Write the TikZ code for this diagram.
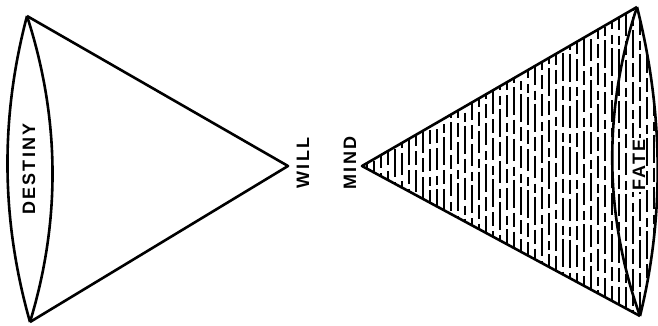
\documentclass[tikz,border=0pt]{standalone}
\usepackage{fontspec}
\setmainfont{Liberation Sans}
\newfontfamily\conefont{Liberation Sans Bold}[LetterSpace=12]
\usetikzlibrary{positioning, calc}

\begin{document}
\begin{tikzpicture}[
  x=1pt, y=-1pt,
  edge/.style={line width=2.6pt, line join=round},
  lbl/.style={rotate=90, inner sep=0pt, font=\conefont\fontsize{18}{18}\selectfont},
  hatch/.style={line width=1.8pt, dash pattern=on 14pt off 5pt on 22pt off 6pt on 9pt off 4pt on 28pt off 5pt}
]
\useasboundingbox (0,0) rectangle (658,325);

% left cone
\coordinate (dtop) at (27,16);
\coordinate (dbot) at (30,322);
\coordinate (will) at (288,166);
% right cone
\coordinate (ftop) at (637,7);
\coordinate (fbot) at (640,316);
\coordinate (mind) at (362,166);

% hatching of the right cone
\begin{scope}
  \clip (mind) -- (ftop) .. controls (664,110) and (666,215) .. (fbot) -- cycle;
  \pgfmathsetseed{11}
  \foreach \x in {367,374,...,660} {
    \pgfmathsetmacro\ph{rnd*90}
    \draw[hatch, dash phase=\ph pt] (\x,0) -- (\x,325);
  }
\end{scope}

\draw[edge] (dtop) -- (will) -- (dbot);
\draw[edge] (dtop) .. controls (0,118) and (1,220) .. (dbot);
\draw[edge] (dtop) .. controls (60,118) and (61,220) .. (dbot);

\draw[edge] (ftop) -- (mind) -- (fbot);
\draw[edge] (ftop) .. controls (603,110) and (604,215) .. (fbot);
\draw[edge] (ftop) .. controls (663,110) and (665,215) .. (fbot);

\node[lbl] (destiny) at (29,169) {DESTINY};
\node[lbl] (willtxt) at (303,163) {WILL};
\node[lbl] (mindtxt) at (350,163) {MIND};
\node[lbl, fill=white, inner sep=1pt] (fate) at (639,165) {FATE};
\end{tikzpicture}
\end{document}
